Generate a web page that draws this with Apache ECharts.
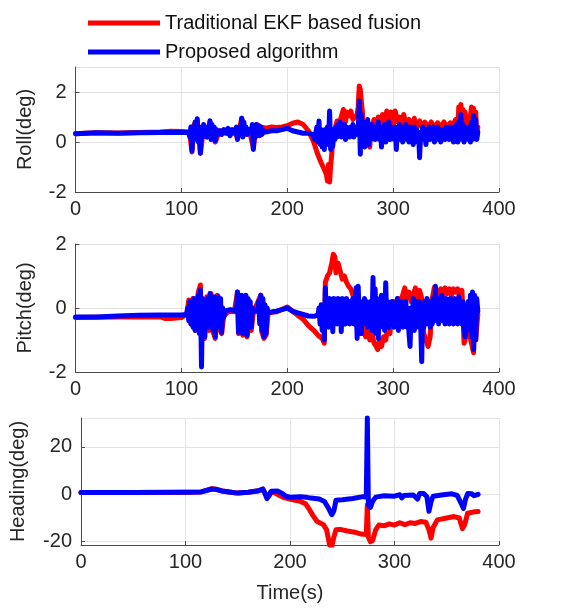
<!DOCTYPE html>
<html>
<head>
<meta charset="UTF-8">
<title>Attitude comparison</title>
<script type="text/javascript" src="https://cdn.jsdelivr.net/npm/echarts@6/dist/echarts.min.js"></script>
</head>
<body style="margin:0;background:#fff;">
<div id="main" style="width: 579px; height: 608px;"></div>
<script type="text/javascript">
// legend names
var nameEkf = 'Traditional EKF based fusion';
var nameProp = 'Proposed algorithm';

// [time(s), value(deg)]
var rollEkf = [[0,0.33],[20,0.37],[40,0.36],[60,0.38],[80,0.4],[90,0.43],[100,0.42],[107,0.4],
	[108,0.3],[110,-0.4],[112,0.7],[115,0.85],[118,-0.45],[121,0.6],[124,0.2],[127,0.8],[130,0.2],[132,0.0],
	[136,0.45],[140,0.45],[146,0.3],[150,0.45],[153,0.15],[157,0.95],[160,0.4],[164,0.5],[168,-0.25],[171,0.7],
	[175,0.6],[180,0.55],[185,0.6],[190,0.58],[195,0.6],[200,0.65],[205,0.75],[210,0.8],[215,0.7],[220,0.45],
	[225,0.0],[228,-0.4],[232,-0.83],[235,-1.1],[237,-1.3],[238,-1.56],[239,-0.9],[240,-1.6],[241,-0.96],
	[243,0.0],[245,0.5],[247,0.84],[249,0.7],[251,1.0],[253,1.3],[255,0.8],[256,1.2],[258,1.04],[260,1.24],
	[262,0.9],[264,1.0],[266,1.1],[267,1.4],[268,2.24],[269,2.1],[270,1.6],[271,1.2],[272,0.3],[273,0.8],
	[274,-0.16],[275,0.7],[276,-0.1],[277,0.6],[278,-0.2],[279,0.7],[280,0.6],[282,0.9],[284,0.5],[286,1.0],
	[288,0.6],[290,1.1],[292,0.7],[294,1.24],[296,0.8],[298,1.2],[300,0.7],[302,1.24],[304,0.8],[306,1.0],
	[308,0.6],[310,1.1],[312,0.7],[315,0.9],[318,0.6],[320,0.95],[322,0.5],[325,0.85],[328,0.55],[330,0.8],
	[333,0.6],[336,0.8],[339,0.55],[342,0.77],[345,0.6],[348,0.8],[351,0.6],[354,0.77],[357,0.7],[359,0.9],
	[361,0.5],[362,1.4],[363,0.8],[364,1.5],[365,0.9],[366,1.3],[367,0.6],[368,1.2],[369,0.8],[370,1.0],
	[372,0.7],[374,1.4],[375,0.6],[376,1.35],[377,0.3],[378,1.2],[379,0.2],[380,0.6]];

var rollProp = [[0,0.33],[20,0.37],[40,0.35],[60,0.37],[80,0.38],[100,0.39],[107,0.38],
	[108,0.2],[109,0.6],[110,-0.35],[111,0.5],[112,0.1],[113,0.8],[114,0.2],[115,0.93],[116,0.0],[117,0.6],
	[118,-0.45],[119,0.5],[120,0.2],[121,0.7],[122,0.3],[123,0.5],[124,0.2],[125,0.6],[126,0.3],[127,0.85],
	[128,0.1],[129,0.7],[130,0.2],[131,0.6],[132,0.05],[133,0.5],[134,0.3],[136,0.45],[138,0.3],[140,0.5],
	[142,0.35],[144,0.55],[146,0.25],[148,0.5],[150,0.35],[152,0.6],[153,0.1],[154,0.55],[156,0.3],[157,0.95],
	[158,0.2],[159,0.8],[160,0.4],[161,0.6],[162,0.3],[164,0.5],[166,0.35],[167,0.7],[168,-0.3],[169,0.6],
	[170,0.2],[171,0.7],[172,0.3],[173,0.65],[174,0.25],[175,0.6],[176,0.3],[178,0.45],[180,0.4],[185,0.45],
	[190,0.45],[195,0.5],[200,0.55],[205,0.45],[210,0.4],[215,0.35],[220,0.35],[224,0.3],[226,0.1],[228,0.6],
	[229,0.0],[230,0.84],[231,-0.1],[232,0.5],[233,-0.2],[234,0.4],[235,-0.3],[236,0.5],[237,-0.1],[238,0.6],
	[239,0.0],[240,1.24],[241,-0.3],[242,0.3],[243,-0.16],[244,0.5],[245,0.1],[246,0.6],[247,0.2],[248,0.7],
	[249,0.3],[250,0.8],[251,0.2],[252,0.6],[253,0.3],[254,0.7],[255,0.1],[256,0.6],[257,0.3],[258,0.5],
	[259,0.2],[260,0.6],[261,0.3],[262,0.7],[263,0.2],[264,0.5],[265,0.3],[266,0.6],[267,0.4],[268,1.64],
	[269,-0.49],[270,1.1],[271,0.0],[272,0.8],[273,-0.2],[274,0.6],[275,0.0],[276,0.9],[277,-0.1],[278,0.5],
	[279,0.1],[280,0.7],[281,0.2],[282,0.6],[283,0.1],[284,0.5],[285,0.2],[286,0.8],[287,0.1],[288,0.6],
	[289,-0.2],[290,0.5],[291,0.2],[292,0.7],[293,0.0],[294,0.6],[295,0.2],[296,0.8],[297,0.1],[298,0.6],
	[299,0.3],[300,0.5],[301,0.1],[302,0.6],[303,-0.3],[304,0.5],[305,0.2],[306,0.7],[307,0.1],[308,0.6],
	[309,0.0],[310,0.5],[311,0.2],[312,0.7],[313,0.1],[314,0.5],[315,0.0],[316,0.6],[317,0.2],[318,0.5],
	[319,-0.1],[320,0.6],[321,0.2],[322,0.5],[323,0.0],[324,0.4],[325,-0.63],[326,0.3],[327,0.1],[328,0.6],
	[329,0.2],[330,0.5],[331,-0.1],[332,0.4],[333,0.2],[334,0.6],[335,0.1],[336,0.5],[337,0.2],[338,0.6],
	[339,0.0],[340,0.5],[341,0.2],[342,0.6],[343,0.1],[344,0.5],[345,0.0],[346,0.4],[347,0.2],[348,0.5],
	[349,0.1],[350,0.6],[351,0.2],[352,0.5],[353,0.1],[354,0.6],[355,0.2],[356,0.5],[357,0.0],[358,0.6],
	[359,0.2],[360,0.7],[361,0.0],[362,0.8],[363,0.1],[364,1.1],[365,0.1],[366,0.7],[367,0.0],[368,0.6],
	[369,0.2],[370,0.5],[371,0.1],[372,0.6],[373,0.0],[374,0.8],[375,0.1],[376,1.05],[377,0.2],[378,0.9],
	[379,0.1],[380,0.4]];

var pitchEkf = [[0,-0.3],[40,-0.28],[80,-0.27],[85,-0.33],[90,-0.33],[100,-0.3],[105,-0.2],[107,0.25],
	[109,-0.5],[111,0.3],[113,-0.7],[116,0.5],[118,0.72],[119,-1.0],[121,-0.65],[122,-0.95],[124,0.35],
	[126,-0.7],[128,0.45],[130,-0.75],[132,-0.95],[134,0.4],[136,-0.65],[138,-0.8],[140,-0.25],[145,-0.1],
	[150,-0.12],[153,0.5],[154,-0.8],[156,-0.6],[158,-0.85],[160,0.35],[162,-0.9],[164,-0.5],[166,-0.7],
	[168,-0.15],[173,0.25],[175,0.4],[176,-0.75],[178,-0.95],[180,-0.85],[182,-0.15],[190,-0.12],[200,0.03],
	[205,-0.1],[210,-0.23],[215,-0.35],[220,-0.55],[225,-0.7],[229,-0.85],[233,-0.95],[235,-1.1],[236,0.8],
	[238,1.0],[240,1.1],[242,1.4],[243.5,1.68],[245,1.6],[246,1.1],[248,1.4],[250,1.15],[252,0.9],[254,1.0],
	[256,0.8],[258,0.68],[260,0.6],[262,0.4],[264,0.3],[266,-0.6],[268,-0.3],[270,-0.8],[272,-0.6],[274,-0.9],
	[276,-0.7],[278,-1.0],[280,-0.8],[282,-1.1],[284,-1.2],[285.5,-1.3],[287,-1.0],[289,-1.2],[291,-0.9],
	[293,-1.0],[295,-0.6],[297,-0.8],[299,0.0],[301,0.2],[303,-0.3],[305,0.3],[307,0.1],[309,0.4],[311,0.63],
	[313,0.3],[315,0.5],[317,0.2],[319,0.4],[321,0.63],[323,0.3],[325,0.55],[327,0.3],[329,-0.8],[331,-1.0],
	[333,-1.2],[335,-0.9],[337,0.3],[339,0.65],[341,0.3],[343,0.5],[345,0.6],[347,0.4],[349,0.63],[351,0.45],
	[353,0.6],[355,0.4],[357,0.6],[359,0.5],[361,0.6],[363,0.3],[365,0.55],[367,-1.1],[368,-1.0],[370,-0.5],
	[372,-0.8],[374,-1.1],[376,-1.4],[377,0.3],[378,-1.0],[380,-0.2]];

var pitchProp = [[0,-0.28],[20,-0.28],[40,-0.25],[60,-0.23],[80,-0.22],[100,-0.22],[105,-0.2],
	[106,0.0],[107,-0.4],[108,0.2],[109,-0.5],[110,0.1],[111,-0.6],[112,0.3],[113,-0.7],[114,0.2],[115,-0.5],
	[116,0.4],[117,-0.8],[118,0.56],[119,-1.84],[120,0.3],[121,-0.6],[122,-0.9],[123,0.2],[124,-0.4],
	[125,0.3],[126,-0.6],[127,0.45],[128,-0.5],[129,0.3],[130,-0.7],[131,0.35],[132,-0.9],[133,0.2],
	[134,-0.5],[135,0.35],[136,-0.6],[137,0.3],[138,-0.76],[139,0.0],[140,-0.3],[141,-0.1],[142,-0.05],
	[146,-0.05],[150,-0.08],[152,-0.1],[153,0.5],[154,-0.76],[155,0.3],[156,-0.5],[157,0.4],[158,-0.8],
	[159,0.2],[160,-0.6],[161,0.4],[162,-0.86],[163,0.3],[164,-0.5],[165,0.2],[166,-0.6],[167,0.0],
	[168,-0.1],[172,-0.1],[173,0.2],[174,-0.5],[175,0.4],[176,-0.7],[177,0.3],[178,-0.9],[179,0.1],
	[180,-0.8],[181,0.0],[182,-0.15],[186,-0.12],[190,-0.1],[195,-0.05],[200,0.0],[205,-0.1],[210,-0.15],
	[215,-0.2],[220,-0.25],[225,-0.26],[229,-0.22],[230,0.0],[231,-0.5],[232,0.1],[233,-0.7],[234,-0.2],
	[235,-1.0],[236,0.63],[237,-0.3],[238,0.2],[239,-0.6],[240,0.3],[241,-0.4],[242,0.2],[243,-0.74],
	[244,0.3],[245,-0.2],[246,0.2],[247,-0.5],[248,0.3],[249,-0.4],[250,0.2],[251,-0.74],[252,0.3],
	[253,-0.3],[254,0.1],[255,-0.5],[256,0.3],[257,-0.2],[258,0.2],[259,-0.5],[260,0.2],[261,-0.3],
	[262,0.3],[263,-0.5],[264,0.2],[265,0.63],[266,-0.95],[267,0.68],[268,-0.3],[269,0.2],[270,-0.8],
	[271,0.1],[272,-0.5],[273,0.3],[274,-0.3],[275,0.2],[276,-0.6],[277,0.1],[278,-0.4],[279,0.2],
	[280,-0.7],[281,0.95],[282,-0.5],[283,0.6],[284,-0.8],[285,0.3],[286,-0.95],[287,0.2],[288,-0.6],
	[289,0.4],[290,-0.5],[291,0.1],[292,-0.7],[293,0.79],[294,-0.4],[295,0.2],[296,-0.6],[297,0.1],
	[298,-0.5],[299,0.2],[300,-0.2],[301,-0.6],[302,0.1],[303,-0.5],[304,0.3],[305,-0.7],[306,0.0],
	[307,-0.4],[308,0.2],[309,-0.6],[310,0.1],[311,-0.5],[312,0.2],[313,-0.6],[314,0.0],[315,-0.8],
	[316,-1.2],[317,0.0],[318,-0.5],[319,0.3],[320,-0.7],[321,0.1],[322,-0.5],[323,0.2],[324,-0.6],
	[325,0.2],[326,-0.5],[327,-1.68],[328,0.1],[329,-0.6],[330,0.2],[331,-0.5],[332,0.3],[333,-0.4],
	[334,0.2],[335,-0.6],[336,0.1],[337,-0.5],[338,0.3],[339,-0.4],[340,0.68],[341,-0.3],[342,0.2],
	[343,-0.5],[344,0.3],[345,-0.4],[346,0.4],[347,-0.3],[348,0.2],[349,-0.5],[350,0.3],[351,-0.4],
	[352,0.2],[353,-0.5],[354,0.3],[355,-0.3],[356,0.1],[357,-0.5],[358,0.3],[359,-0.4],[360,0.2],
	[361,-0.5],[362,0.35],[363,-0.3],[364,0.1],[365,-0.5],[366,0.2],[367,-0.6],[368,-0.9],[369,0.0],
	[370,-0.4],[371,0.2],[372,-0.7],[373,0.4],[374,-0.9],[375,0.5],[376,-1.3],[377,0.4],[378,-1.0],
	[379,0.3],[380,-0.1]];

var headEkf = [[0,0.8],[50,0.8],[100,0.9],[115,1.0],[120,1.7],[125,2.4],[130,2.1],[135,1.4],[145,0.8],
	[150,0.5],[160,0.9],[170,1.5],[174,2.2],[176,0.5],[178,-1.5],[180,-0.5],[182,1.0],[186,0.5],[190,-0.5],
	[195,-1.5],[200,-2.0],[205,-2.5],[210,-3.0],[215,-4.0],[218,-6],[222,-9],[226,-11.5],[232,-12.8],
	[235,-15],[238,-21.5],[240,-22],[242,-18],[244,-15],[248,-14.8],[255,-15.5],[262,-16],[268,-16.8],
	[273,-17],[274,-4.5],[275,-18],[277,-20],[279,-19.5],[282,-15],[285,-13],[290,-13.3],[295,-12.5],
	[300,-13],[305,-12],[310,-12.8],[315,-12],[320,-12.3],[325,-11.5],[330,-11.8],[333,-15],[335,-18.5],
	[337,-14],[341,-10.8],[350,-10],[357,-9.4],[362,-10],[365,-14.5],[367,-13],[370,-8],[375,-7.5],[380,-7.3]];

var headProp = [[0,0.8],[50,0.8],[100,0.9],[115,1.0],[120,1.6],[125,2.2],[130,2.0],[135,1.4],[145,0.8],
	[150,0.5],[160,0.9],[170,1.5],[174,2.2],[176,0.5],[178,-1.8],[180,-0.5],[182,1.3],[188,1.4],[192,0.5],
	[196,-0.8],[200,-1.2],[210,-1.0],[215,-1.2],[220,-1.6],[228,-2.0],[233,-3.0],[237,-6],[240,-8.6],
	[242,-7],[244,-2.5],[250,-2.3],[260,-1.8],[270,-1.0],[273,-1.2],[274,32.3],[275,-4.4],[277,-5.5],
	[279,-3],[282,-1.2],[290,-0.6],[300,-0.8],[305,-0.2],[307,-1.5],[309,-0.5],[318,-0.3],[322,-2],
	[324,0.3],[328,0.3],[331,-1],[333,-7.2],[335,-3],[337,-0.8],[345,-0.3],[355,0.2],[360,-0.5],[364,-4],
	[366,-6],[368,-2],[370,0.3],[374,0.2],[376,-0.6],[380,0]];

var axisColor = '#4a4a4a';
var textColor = '#262626';
var gridColor = '#e3e3e3';
var fontFam = 'Liberation Sans, Arial, sans-serif';

function xAx(idx, withName) {
	var ax = {
		type: 'value', gridIndex: idx, min: 0, max: 400, interval: 100,
		axisLine: { show: true, onZero: false, lineStyle: { color: axisColor, width: 1 } },
		axisTick: { show: true, inside: true, length: 4, lineStyle: { color: axisColor } },
		axisLabel: { color: textColor, fontSize: 20, fontFamily: fontFam, margin: 7 },
		splitLine: { show: true, lineStyle: { color: gridColor, width: 1 } }
	};
	if (withName) {
		ax.name = 'Time(s)';
		ax.nameLocation = 'middle';
		ax.nameGap = 38;
		ax.nameTextStyle = { color: textColor, fontSize: 20, fontFamily: fontFam };
	}
	return ax;
}

function yAx(idx, name, gap, min, max, interval, showMin, showMax) {
	var ax = {
		type: 'value', gridIndex: idx, min: min, max: max,
		name: name, nameLocation: 'middle', nameGap: gap,
		nameTextStyle: { color: textColor, fontSize: 20, fontFamily: fontFam },
		axisLine: { show: true, lineStyle: { color: axisColor, width: 1 } },
		axisTick: { show: true, inside: true, length: 4, lineStyle: { color: axisColor } },
		axisLabel: { color: textColor, fontSize: 20, fontFamily: fontFam, margin: 9,
			showMinLabel: showMin, showMaxLabel: showMax },
		splitLine: { show: true, lineStyle: { color: gridColor, width: 1 } }
	};
	if (interval) ax.interval = interval; else ax.splitNumber = 3;
	return ax;
}

function line(name, color, idx, data) {
	return {
		name: name, type: 'line', xAxisIndex: idx, yAxisIndex: idx,
		data: data, showSymbol: false, symbol: 'none', sampling: null,
		lineStyle: { color: color, width: 5, join: 'round', cap: 'round' },
		itemStyle: { color: color }
	};
}

var chart = echarts.init(document.getElementById('main'));
var option = {
	animation: false,
	backgroundColor: '#fff',
	legend: {
		orient: 'vertical', left: 83, top: 6,
		data: [nameEkf, nameProp],
		icon: 'rect', itemWidth: 72, itemHeight: 5, itemGap: 5,
		textStyle: { color: '#111', fontSize: 20, fontFamily: fontFam, lineHeight: 24 }
	},
	grid: [
		{ left: 75.5, top: 67, width: 423.5, height: 125 },
		{ left: 75.5, top: 244, width: 423.5, height: 128 },
		{ left: 75.5, top: 418, width: 423.5, height: 127 }
	],
	xAxis: [xAx(0, false), xAx(1, false), xAx(2, true)],
	yAxis: [
		yAx(0, 'Roll(deg)', 40, -2, 3, 2, true, false),
		yAx(1, 'Pitch(deg)', 40, -2, 2, 2, true, true),
		yAx(2, 'Heading(deg)', 53, -21.4, 32.2, null, false, false)
	],
	series: [
		line(nameEkf, '#ff0000', 0, rollEkf),
		line(nameProp, '#0000ff', 0, rollProp),
		line(nameEkf, '#ff0000', 1, pitchEkf),
		line(nameProp, '#0000ff', 1, pitchProp),
		line(nameEkf, '#ff0000', 2, headEkf),
		line(nameProp, '#0000ff', 2, headProp)
	]
};
chart.setOption(option);
</script>
</body>
</html>
